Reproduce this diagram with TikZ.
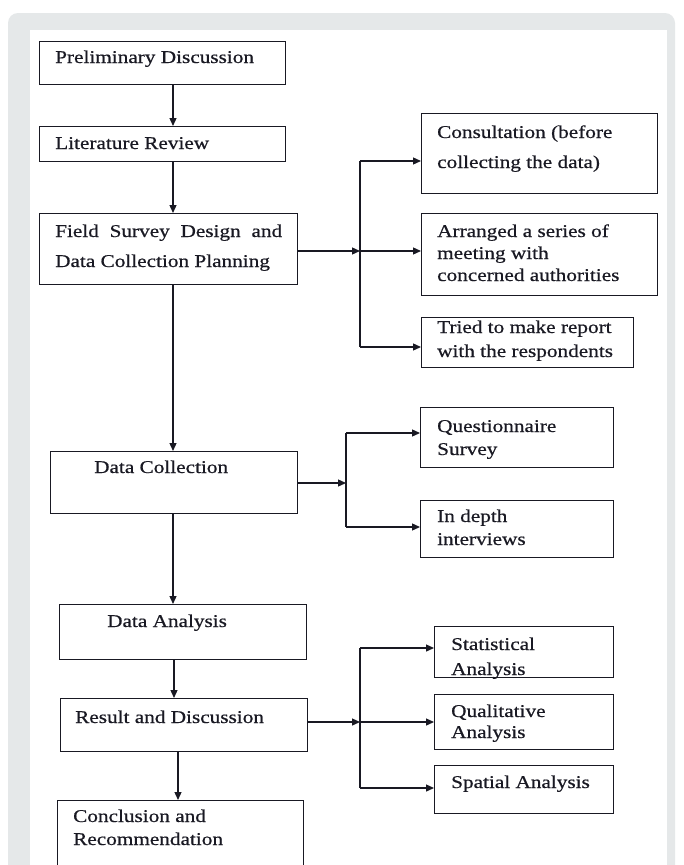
\documentclass[tikz,border=0pt]{standalone}
\usepackage{fontspec}
\setmainfont{Liberation Serif}[FakeStretch=1.18,FakeBold=0.6]
\usetikzlibrary{arrows.meta}
\definecolor{bggrey}{RGB}{229,232,233}
\definecolor{ink}{RGB}{25,25,35}
\tikzset{
 box/.style={draw=ink, line width=1.4pt, rectangle, inner sep=0pt, anchor=north west},
 lbl/.style={anchor=base west, inner sep=0pt, text=ink, font=\fontsize{18}{22}\selectfont},
 arr/.style={draw=ink, line width=1.3pt, -{Triangle[length=8pt,width=7pt]}},
 ln/.style={draw=ink, line width=1.3pt},
}
\begin{document}
\begin{tikzpicture}[x=1pt,y=-1pt]
\clip (0,0) rectangle (683,865);
\fill[white] (0,0) rectangle (683,865);
\fill[bggrey, rounded corners=10pt] (8,13) rectangle (675,900);
\fill[white] (30,30) rectangle (667,900);

% boxes
\node[box, minimum width=246pt, minimum height=43pt] (prelim) at (39,41) {};
\node[box, minimum width=246pt, minimum height=35pt] (lit) at (39,126) {};
\node[box, minimum width=258pt, minimum height=71pt] (field) at (39,213) {};
\node[box, minimum width=236pt, minimum height=80pt] (cons) at (421,113) {};
\node[box, minimum width=236pt, minimum height=82pt] (arrg) at (421,213) {};
\node[box, minimum width=212pt, minimum height=50pt] (tried) at (421,317) {};
\node[box, minimum width=247pt, minimum height=62pt] (dc) at (50,451) {};
\node[box, minimum width=193pt, minimum height=60pt] (quest) at (420,407) {};
\node[box, minimum width=193pt, minimum height=57pt] (indepth) at (420,500) {};
\node[box, minimum width=247pt, minimum height=55pt] (da) at (59,604) {};
\node[box, minimum width=247pt, minimum height=53pt] (rd) at (60,698) {};
\node[box, minimum width=246pt, minimum height=80pt] (conc) at (57,800) {};
\node[box, minimum width=179pt, minimum height=51pt] (stat) at (434,626) {};
\node[box, minimum width=179pt, minimum height=55pt] (qual) at (434,694) {};
\node[box, minimum width=179pt, minimum height=48pt] (spat) at (434,765) {};

% texts
\node[lbl] (tprelim) at (55,63) {Preliminary Discussion};
\node[lbl] (tlit) at (55,149) {Literature Review};
\node[lbl] (tfielda) at (55,237) {\makebox[227pt][s]{Field Survey Design and}};
\node[lbl] (tfieldb) at (55,267) {Data Collection Planning};
\node[lbl] (tconsa) at (437,138) {Consultation (before};
\node[lbl] (tconsb) at (437,168) {collecting the data)};
\node[lbl] (tarra) at (437,237) {Arranged a series of};
\node[lbl] (tarrb) at (437,259) {meeting with};
\node[lbl] (tarrc) at (437,281) {concerned authorities};
\node[lbl] (ttrieda) at (437,333) {Tried to make report};
\node[lbl] (ttriedb) at (437,357) {with the respondents};
\node[lbl] (tdc) at (94,473) {Data Collection};
\node[lbl] (tquesta) at (437,432) {Questionnaire};
\node[lbl] (tquestb) at (437,455) {Survey};
\node[lbl] (tinda) at (437,522) {In depth};
\node[lbl] (tindb) at (437,545) {interviews};
\node[lbl] (tda) at (107,627) {Data Analysis};
\node[lbl] (trd) at (75,723) {Result and Discussion};
\node[lbl] (tconca) at (73,822) {Conclusion and};
\node[lbl] (tconcb) at (73,845) {Recommendation};
\node[lbl] (tstata) at (451,650) {Statistical};
\begin{scope}
\clip (stat.north west) rectangle (stat.south east);
\node[lbl] (tstatb) at (451,675) {Analysis};
\end{scope}
\node[lbl] (tquala) at (451,717) {Qualitative};
\node[lbl] (tqualb) at (451,738) {Analysis};
\node[lbl] (tspat) at (451,788) {Spatial Analysis};

% main column
\coordinate (c1) at (173,0);
\coordinate (c2) at (174,0);
\coordinate (c3) at (178,0);
\draw[arr] (prelim.south -| c1) -- (lit.north -| c1);
\draw[arr] (lit.south -| c1) -- (field.north -| c1);
\draw[arr] (field.south -| c1) -- (dc.north -| c1);
\draw[arr] (dc.south -| c1) -- (da.north -| c1);
\draw[arr] (da.south -| c2) -- (rd.north -| c2);
\draw[arr] (rd.south -| c3) -- (conc.north -| c3);

% branch 1
\coordinate (b1top) at (360,161);
\coordinate (b1mid) at (360,251);
\coordinate (b1bot) at (360,347);
\draw[ln] (b1top) -- (b1bot);
\draw[arr] (field.east |- b1mid) -- (b1mid);
\draw[arr] (b1top) -- (b1top -| cons.west);
\draw[arr] (b1mid) -- (b1mid -| arrg.west);
\draw[arr] (b1bot) -- (b1bot -| tried.west);

% branch 2
\coordinate (b2top) at (346,433);
\coordinate (b2mid) at (346,483);
\coordinate (b2bot) at (346,527);
\draw[ln] (b2top) -- (b2bot);
\draw[arr] (dc.east |- b2mid) -- (b2mid);
\draw[arr] (b2top) -- (b2top -| quest.west);
\draw[arr] (b2bot) -- (b2bot -| indepth.west);

% branch 3
\coordinate (b3top) at (360,648);
\coordinate (b3mid) at (360,722);
\coordinate (b3bot) at (360,788);
\draw[ln] (b3top) -- (b3bot);
\draw[arr] (rd.east |- b3mid) -- (b3mid);
\draw[arr] (b3top) -- (b3top -| stat.west);
\draw[arr] (b3mid) -- (b3mid -| qual.west);
\draw[arr] (b3bot) -- (b3bot -| spat.west);
\end{tikzpicture}
\end{document}
